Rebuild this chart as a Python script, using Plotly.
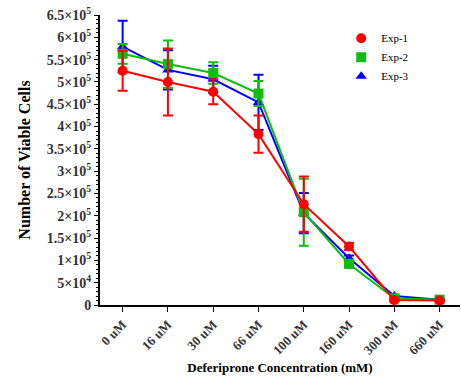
import plotly.graph_objects as go

categories = ["0 uM", "16 uM", "30 uM", "66 uM", "100 uM", "160 uM", "300 uM", "660 uM"]
exp1 = [5.25e5, 5.0e5, 4.78e5, 3.83e5, 2.26e5, 1.31e5, 0.11e5, 0.10e5]
exp1_err = [0.45e5, 0.75e5, 0.28e5, 0.42e5, 0.62e5, 0.08e5, 0.02e5, 0.02e5]
exp2 = [5.63e5, 5.40e5, 5.20e5, 4.74e5, 2.08e5, 0.92e5, 0.15e5, 0.12e5]
exp2_err = [0.22e5, 0.53e5, 0.24e5, 0.28e5, 0.75e5, 0.06e5, 0.02e5, 0.02e5]
exp3 = [5.79e5, 5.27e5, 5.06e5, 4.54e5, 2.06e5, 1.05e5, 0.20e5, 0.12e5]
exp3_err = [0.58e5, 0.44e5, 0.30e5, 0.62e5, 0.45e5, 0.06e5, 0.02e5, 0.02e5]

ytick_vals = [i * 5e4 for i in range(14)]
ytick_text = ["0", "5×10<sup>4</sup>", "1×10<sup>5</sup>", "1.5×10<sup>5</sup>", "2×10<sup>5</sup>",
              "2.5×10<sup>5</sup>", "3×10<sup>5</sup>", "3.5×10<sup>5</sup>", "4×10<sup>5</sup>",
              "4.5×10<sup>5</sup>", "5×10<sup>5</sup>", "5.5×10<sup>5</sup>", "6×10<sup>5</sup>",
              "6.5×10<sup>5</sup>"]

series = [
    ("Exp-3", exp3, exp3_err, "#0000FF", "triangle-up"),
    ("Exp-2", exp2, exp2_err, "#11BB11", "square"),
    ("Exp-1", exp1, exp1_err, "#FF0000", "circle"),
]

fig = go.Figure()
for name, vals, errs, color, sym in series:
    fig.add_trace(go.Scatter(
        x=categories, y=vals, name=name, mode="lines+markers", showlegend=False,
        line=dict(color=color, width=2),
        marker=dict(color=color, symbol=sym, size=10),
        error_y=dict(type="data", array=errs, visible=True, color=color, thickness=2, width=5),
        cliponaxis=False,
    ))
for name, vals, errs, color, sym in series:
    fig.add_trace(go.Scatter(
        x=[None], y=[None], name=name, mode="markers",
        marker=dict(color=color, symbol=sym, size=10),
    ))

font_family = "Liberation Serif"
fig.update_layout(
    width=461, height=379,
    margin=dict(l=100, r=1, t=15, b=74),
    plot_bgcolor="white", paper_bgcolor="white",
    font=dict(family=font_family, color="black"),
    showlegend=True,
    legend=dict(x=0.67, y=0.97, xanchor="left", yanchor="top", traceorder="reversed",
                font=dict(family=font_family, size=11, color="black"),
                bgcolor="rgba(0,0,0,0)", tracegroupgap=0),
    xaxis=dict(
        type="category", range=[-0.5, 7.45],
        tickvals=categories, ticktext=["<b>%s</b>" % c for c in categories],
        showline=True, linecolor="black", linewidth=2,
        ticks="outside", ticklen=5, tickwidth=1, tickcolor="black",
        tickangle=-45, showgrid=False, zeroline=False,
        tickfont=dict(family=font_family, size=13, color="#333"),
        title=dict(text="<b>Deferiprone Concentration (mM)</b>", standoff=6,
                   font=dict(family=font_family, size=13, color="black")),
    ),
    yaxis=dict(
        range=[0, 6.5e5],
        tickvals=ytick_vals, ticktext=["<b>%s</b>" % t for t in ytick_text],
        showline=True, linecolor="black", linewidth=2,
        ticks="outside", ticklen=4, tickwidth=1, tickcolor="black",
        minor=dict(dtick=1e4, ticks="outside", ticklen=2, tickcolor="black", showgrid=False),
        showgrid=False, zeroline=False,
        tickfont=dict(family=font_family, size=14, color="#333"),
        title=dict(text="<b>Number of Viable Cells</b>", standoff=12,
                   font=dict(family=font_family, size=16, color="black")),
    ),
)

fig.write_html("out.html")
